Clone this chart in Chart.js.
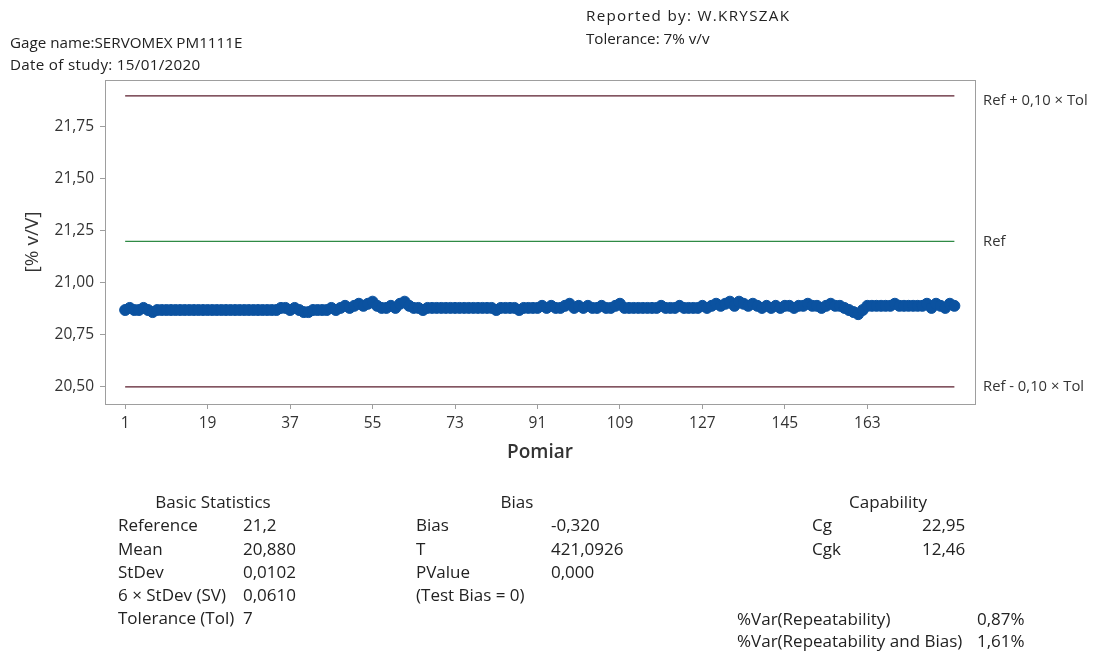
<!DOCTYPE html>
<html>
<head>
<meta charset="utf-8">
<script src="https://cdn.jsdelivr.net/npm/chart.js@4/dist/chart.umd.min.js"></script>
<style>
  html, body { margin: 0; padding: 0; background: #fff; }
  body { width: 1093px; height: 652px; position: relative; overflow: hidden;
         font-family: "Open Sans", "Noto Sans", sans-serif; color: #222; }
  #wrap { position: absolute; left: 0; top: 0; width: 1093px; height: 652px; }
  .t { position: absolute; font-size: 17px; line-height: 22px; white-space: nowrap; }
  .h { font-size: 15.2px; }
  .c { transform: translateX(-50%); }
</style>
</head>
<body>
<div id="wrap"><canvas id="chart" width="1093" height="652"></canvas></div>

<div class="t h" style="left:586px;top:4px;letter-spacing:1.3px">Reported by: W.KRYSZAK</div>
<div class="t h" style="left:586px;top:27px">Tolerance: 7% v/v</div>
<div class="t h" style="left:10px;top:31px">Gage name:SERVOMEX PM1111E</div>
<div class="t h" style="left:10px;top:53px;letter-spacing:0.3px">Date of study: 15/01/2020</div>

<div class="t c" style="left:213px;top:491px">Basic Statistics</div>
<div class="t" style="left:118px;top:514px">Reference</div><div class="t" style="left:243px;top:514px">21,2</div>
<div class="t" style="left:118px;top:538px">Mean</div><div class="t" style="left:243px;top:538px">20,880</div>
<div class="t" style="left:118px;top:561px">StDev</div><div class="t" style="left:243px;top:561px">0,0102</div>
<div class="t" style="left:118px;top:584px">6 × StDev (SV)</div><div class="t" style="left:243px;top:584px">0,0610</div>
<div class="t" style="left:118px;top:607px">Tolerance (Tol)</div><div class="t" style="left:243px;top:607px">7</div>

<div class="t c" style="left:517px;top:491px">Bias</div>
<div class="t" style="left:416px;top:514px">Bias</div><div class="t" style="left:551px;top:514px">-0,320</div>
<div class="t" style="left:416px;top:538px">T</div><div class="t" style="left:551px;top:538px">421,0926</div>
<div class="t" style="left:416px;top:561px">PValue</div><div class="t" style="left:551px;top:561px">0,000</div>
<div class="t" style="left:416px;top:584px">(Test Bias = 0)</div>

<div class="t c" style="left:888px;top:491px">Capability</div>
<div class="t" style="left:812px;top:514px">Cg</div><div class="t" style="left:922px;top:514px">22,95</div>
<div class="t" style="left:812px;top:538px">Cgk</div><div class="t" style="left:922px;top:538px">12,46</div>

<div class="t" style="left:737px;top:608px">%Var(Repeatability)</div><div class="t" style="left:977px;top:608px">0,87%</div>
<div class="t" style="left:737px;top:630px">%Var(Repeatability and Bias)</div><div class="t" style="left:977px;top:630px">1,61%</div>

<script>
// Measurement values, one per reading
const measurements = [
  20.87, 20.88, 20.87, 20.87, 20.88, 20.87, 20.86, 20.87,
  20.87, 20.87, 20.87, 20.87, 20.87, 20.87, 20.87, 20.87, 20.87, 20.87,
  20.87, 20.87, 20.87, 20.87, 20.87, 20.87, 20.87, 20.87, 20.87, 20.87,
  20.87, 20.87, 20.87, 20.87, 20.87, 20.87,
  20.88, 20.88, 20.87, 20.88,
  20.87, 20.86, 20.86, 20.87, 20.87, 20.87, 20.87, 20.88,
  20.87, 20.88, 20.89, 20.88, 20.89, 20.90, 20.89, 20.90, 20.91, 20.89,
  20.88, 20.88, 20.89, 20.88,
  20.90, 20.91, 20.89,
  20.88, 20.88, 20.87, 20.88, 20.88, 20.88, 20.88, 20.88, 20.88, 20.88,
  20.88, 20.88, 20.88, 20.88, 20.88, 20.88, 20.88, 20.88, 20.87, 20.88,
  20.88, 20.88, 20.88, 20.87, 20.88, 20.88, 20.88,
  20.88, 20.89, 20.88, 20.89, 20.88, 20.88, 20.89, 20.90, 20.88, 20.89,
  20.88, 20.89, 20.88, 20.88, 20.89,
  20.88, 20.88, 20.89, 20.90, 20.88, 20.88, 20.88, 20.88, 20.88, 20.88,
  20.88, 20.88, 20.89, 20.88, 20.88, 20.88, 20.89, 20.88, 20.88, 20.88, 20.88,
  20.89, 20.88, 20.89, 20.90, 20.89, 20.90, 20.91, 20.89, 20.91, 20.90,
  20.89, 20.90, 20.89, 20.88,
  20.89, 20.88, 20.89, 20.88, 20.89, 20.89, 20.88, 20.89, 20.89, 20.90,
  20.89, 20.89, 20.88, 20.89, 20.90, 20.89,
  20.89, 20.88, 20.87, 20.86, 20.85, 20.87,
  20.89, 20.89, 20.89, 20.89, 20.89, 20.89, 20.90, 20.89, 20.89, 20.89, 20.89, 20.89,
  20.89, 20.90, 20.88, 20.90, 20.89, 20.88, 20.90, 20.89
];

const reference = 21.2;
const tolerance = 7;
const toleranceFraction = 0.10;

const xTickValues = [1, 19, 37, 55, 73, 91, 109, 127, 145, 163];
const yTickValues = [20.50, 20.75, 21.00, 21.25, 21.50, 21.75];

const refLabels = ['Ref + 0,10 × Tol', 'Ref', 'Ref - 0,10 × Tol'];

const n = measurements.length;
const upper = reference + toleranceFraction * tolerance;
const lower = reference - toleranceFraction * tolerance;

const points = measurements.map((v, i) => ({ x: i + 1, y: v }));
const hline = (v) => [{ x: 1, y: v }, { x: n, y: v }];

const fmt = (v, d) => v.toFixed(d).replace('.', ',');
const FONT = '"Open Sans", "Noto Sans", sans-serif';

// Frame around the plot area plus the labels at the right end of the reference lines
const framePlugin = {
  id: 'frame',
  afterDraw(chart) {
    const { ctx, chartArea: a, scales } = chart;
    ctx.save();
    ctx.strokeStyle = '#9e9e9e';
    ctx.lineWidth = 1;
    ctx.strokeRect(a.left + 0.5, a.top + 0.5, a.right - a.left, a.bottom - a.top);
    ctx.fillStyle = '#333';
    ctx.font = '14.8px ' + FONT;
    ctx.textBaseline = 'middle';
    const vals = [upper, reference, lower];
    const shift = [5, 0, 0];
    vals.forEach((v, k) => {
      ctx.fillText(refLabels[k], a.right + 8, scales.y.getPixelForValue(v) + shift[k]);
    });
    ctx.restore();
  }
};

new Chart(document.getElementById('chart'), {
  type: 'line',
  data: {
    datasets: [
      {
        label: 'Pomiar',
        data: points,
        borderColor: '#0b52a0',
        backgroundColor: '#0b52a0',
        borderWidth: 3.5,
        pointRadius: 5.5,
        pointBorderWidth: 1,
        pointBorderColor: '#0b52a0',
        order: 1
      },
      { label: 'Ref + Tol', data: hline(upper), borderColor: '#5a1c2c', borderWidth: 1.3, pointRadius: 0, order: 2 },
      { label: 'Ref', data: hline(reference), borderColor: '#2f8a45', borderWidth: 1.3, pointRadius: 0, order: 2 },
      { label: 'Ref - Tol', data: hline(lower), borderColor: '#5a1c2c', borderWidth: 1.3, pointRadius: 0, order: 2 }
    ]
  },
  options: {
    responsive: false,
    animation: false,
    layout: { padding: { left: 17, top: 80, right: 118, bottom: 184 } },
    plugins: { legend: { display: false }, tooltip: { enabled: false } },
    scales: {
      x: {
        type: 'linear',
        min: -3.4,
        max: 186.5,
        afterBuildTicks: (s) => { s.ticks = xTickValues.map(v => ({ value: v })); },
        afterFit: (s) => { s.height = 64; },
        ticks: { color: '#333', font: { size: 15.5, family: FONT }, padding: 5, maxRotation: 0,
                 callback: (v) => String(v) },
        grid: { display: true, drawOnChartArea: false, drawTicks: true, tickLength: 5, color: '#9e9e9e' },
        border: { display: false },
        title: { display: true, text: 'Pomiar', color: '#333',
                 font: { size: 19, weight: '600', family: FONT }, padding: { top: 2 } }
      },
      y: {
        min: 20.418,
        max: 21.976,
        afterBuildTicks: (s) => { s.ticks = yTickValues.map(v => ({ value: v })); },
        afterFit: (s) => { s.width = 88; },
        ticks: { color: '#333', font: { size: 15.5, family: FONT }, padding: 6,
                 callback: (v) => fmt(v, 2) },
        grid: { display: true, drawOnChartArea: false, drawTicks: true, tickLength: 5, color: '#9e9e9e' },
        border: { display: false },
        title: { display: true, text: '[% v/V]', color: '#333',
                 font: { size: 19, family: FONT }, padding: { bottom: 0 } }
      }
    }
  },
  plugins: [framePlugin]
});
</script>
</body>
</html>
